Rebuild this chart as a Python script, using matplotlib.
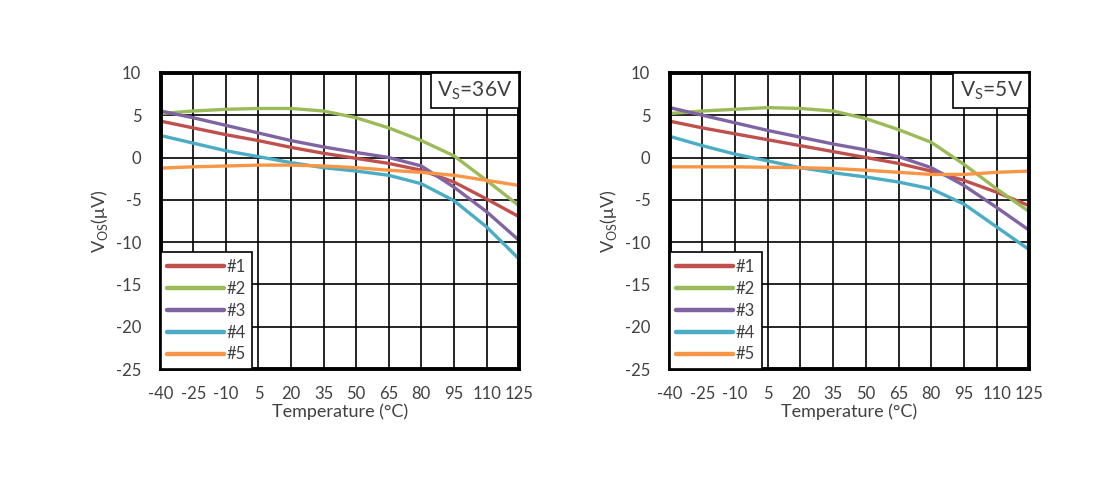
import matplotlib
matplotlib.use("Agg")
import matplotlib.pyplot as plt

plt.rcParams['font.family'] = ['Lato', 'DejaVu Sans']
plt.rcParams['axes.unicode_minus'] = False
plt.rcParams['text.color'] = '#404040'
plt.rcParams['axes.labelcolor'] = '#404040'
plt.rcParams['xtick.labelcolor'] = '#404040'
plt.rcParams['ytick.labelcolor'] = '#404040'

temps = [-40, -25, -10, 5, 20, 35, 50, 65, 80, 95, 110, 125]
names = ['#1', '#2', '#3', '#4', '#5']
colors = ['#C0504D', '#9BBB59', '#8064A2', '#4BACC6', '#F79646']

# Vs = 36V
vos_36 = [
    [4.3, 3.5, 2.7, 2.0, 1.2, 0.5, -0.1, -0.7, -1.5, -2.9, -4.9, -7.0],
    [5.2, 5.5, 5.7, 5.8, 5.8, 5.5, 4.7, 3.5, 2.0, 0.2, -2.7, -5.7],
    [5.5, 4.7, 3.8, 2.9, 2.0, 1.25, 0.6, 0.0, -1.0, -3.5, -6.4, -9.8],
    [2.6, 1.7, 0.8, 0.1, -0.6, -1.2, -1.6, -2.1, -3.1, -5.1, -8.2, -12.0],
    [-1.25, -1.1, -1.0, -0.9, -0.9, -1.0, -1.2, -1.5, -1.75, -2.1, -2.7, -3.3],
]
# Vs = 5V
vos_5 = [
    [4.3, 3.5, 2.8, 2.1, 1.4, 0.7, 0.0, -0.7, -1.6, -2.7, -4.1, -5.7],
    [5.2, 5.5, 5.7, 5.9, 5.8, 5.5, 4.6, 3.3, 1.8, -0.8, -3.7, -6.4],
    [5.9, 5.0, 4.1, 3.2, 2.4, 1.6, 0.9, 0.1, -1.2, -3.3, -5.9, -8.6],
    [2.5, 1.4, 0.4, -0.4, -1.2, -1.8, -2.3, -2.9, -3.7, -5.5, -8.2, -10.9],
    [-1.1, -1.1, -1.1, -1.15, -1.2, -1.3, -1.5, -1.75, -2.0, -2.0, -1.75, -1.6],
]
panel_labels = ['36V', '5V']

fig = plt.figure(figsize=(11.2, 4.83), dpi=100)
axes = [fig.add_axes([0.1435, 0.236, 0.320, 0.613]),
        fig.add_axes([0.598, 0.236, 0.321, 0.613])]

for ax, data, vs in zip(axes, [vos_36, vos_5], panel_labels):
    for vals, nm, c in zip(data, names, colors):
        ax.plot(temps, vals, color=c, lw=2.4, label=nm, solid_capstyle='round')
    ax.set_xlim(-40, 125)
    ax.set_ylim(-25, 10)
    ax.set_xticks(temps)
    ax.set_yticks(range(-25, 11, 5))
    ax.grid(True, color='black', lw=1.2)
    ax.set_axisbelow(True)
    ax.tick_params(axis='x', length=0, labelsize=12, pad=12)
    ax.tick_params(axis='y', length=0, labelsize=12, pad=14)
    for s in ax.spines.values():
        s.set_linewidth(2.8)
    ax.set_xlabel('Temperature (°C)', fontsize=13, labelpad=1)
    ax.set_ylabel('V$_\\mathregular{OS}$(μV)', fontsize=13, labelpad=4)
    ax.text(0.982, 0.978, 'V$_\\mathregular{S}$=' + vs, transform=ax.transAxes,
            ha='right', va='top', fontsize=15,
            bbox=dict(boxstyle='square,pad=0.3', fc='white', ec='black', lw=1.2))
    leg = ax.legend(loc='lower left', borderaxespad=0, fontsize=12,
                    handlelength=3.4, handletextpad=0.15, labelspacing=0.35,
                    fancybox=False, framealpha=1, edgecolor='black',
                    borderpad=0.4)
    leg.get_frame().set_linewidth(1.2)
    for ln in leg.get_lines():
        ln.set_linewidth(3.2)

fig.savefig('out.png', dpi=100)
